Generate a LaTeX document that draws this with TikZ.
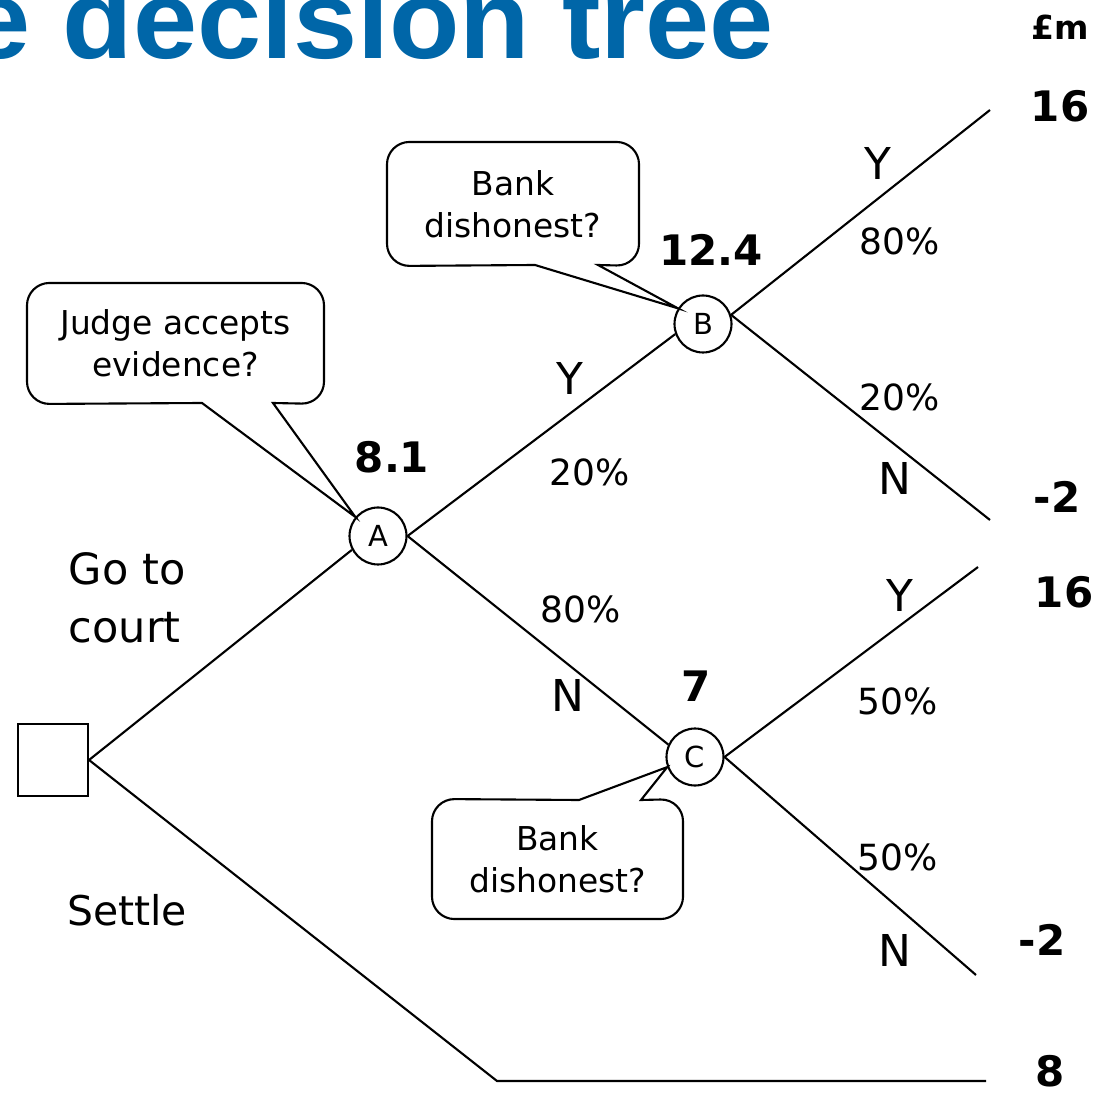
\documentclass[tikz,border=0pt]{standalone}
\usepackage{fontspec}
\setmainfont{DejaVu Sans}
\newfontfamily\headfont{Liberation Sans}
\usetikzlibrary{positioning, calc}
\definecolor{titleblue}{RGB}{0,102,168}

\begin{document}
\begin{tikzpicture}
    [x=0.02cm, y=-0.02cm, line width=1.2pt,
     chance/.style={circle, draw, minimum size=1.14cm, inner sep=0pt, font=\fontsize{16.5}{18}\selectfont},
     decision/.style={rectangle, draw, minimum width=1.4cm, minimum height=1.44cm},
     bubble/.style={inner sep=0pt, align=center, font=\fontsize{18.7}{23.9}\selectfont},
     branch/.style={font=\fontsize{25}{30}\selectfont},
     prob/.style={font=\fontsize{20.5}{24}\selectfont},
     payoff/.style={font=\bfseries\fontsize{23.9}{28}\selectfont}]
    \useasboundingbox (0,0) rectangle (1099,1094);
    \clip (0,0) rectangle (1099,1094);

    % heading, cut by the page edge
    \node[anchor=base east, inner sep=0pt, text=titleblue,
          font=\headfont\bfseries\fontsize{63.7}{64}\selectfont] (title) at (775,59)
          {\scalebox{1.03}[1]{e decision tree}};
    \node[font=\bfseries\fontsize{18.8}{20}\selectfont] (unit) at (1060,27) {£m};

    % nodes of the tree
    \node[decision] (sq) at (53,760) {};
    \node[chance] (nA) at (378,536) {A};
    \node[chance] (nB) at (703,324) {B};
    \node[chance] (nC) at (695,757) {C};

    \coordinate (bY) at (990,110);
    \coordinate (bN) at (990,520);
    \coordinate (cY) at (978,567);
    \coordinate (cN) at (976,975);
    \coordinate (sk) at (497,1081);
    \coordinate (sEnd) at (986,1081);

    \draw (sq.east) -- (nA.208);
    \draw (sq.east) -- (sk) -- (sEnd);
    \draw (nA.east) -- (nB.200);
    \draw (nA.east) -- (nC.155);
    \draw (nB.18) -- (bY);
    \draw (nB.18) -- (bN);
    \draw (nC.east) -- (cY);
    \draw (nC.east) -- (cN);

    % question bubbles
    \node[bubble, minimum width=5.9cm, minimum height=2.38cm] (qA) at (175.5,343.5) {Judge accepts\\evidence?};
    \node[bubble, minimum width=5cm, minimum height=2.44cm] (qB) at (513,204) {Bank\\dishonest?};
    \node[bubble, minimum width=4.98cm, minimum height=2.36cm] (qC) at (557.5,859) {Bank\\dishonest?};

    \draw (nA.140) -- (202,403) [rounded corners=0.45cm] -- (qA.south west) -- (qA.north west)
        -- (qA.north east) -- (qA.south east) [sharp corners] -- (273,403) -- cycle;
    \draw (nB.148) -- (535,265) [rounded corners=0.45cm] -- (qB.south west) -- (qB.north west)
        -- (qB.north east) -- (qB.south east) [sharp corners] -- (598,265) -- cycle;
    \draw (nC.200) -- (641,800) [rounded corners=0.45cm] -- (qC.north east) -- (qC.south east)
        -- (qC.south west) -- (qC.north west) [sharp corners] -- (579,800) -- cycle;

    % branch labels
    \node[align=left, anchor=west, font=\fontsize{24.5}{33}\selectfont] (court) at (62,598) {Go to\\court};
    \node[font=\fontsize{23.3}{28}\selectfont] (settle) at (127,910) {Settle};

    \node[branch] (yA) at (570,378) {Y};
    \node[prob] (pAy) at (590,472) {20\%};
    \node[prob] (pAn) at (581,609) {80\%};
    \node[branch] (nAn) at (568,695) {N};

    \node[branch] (yB) at (878,163) {Y};
    \node[prob] (pBy) at (900,241) {80\%};
    \node[prob] (pBn) at (900,397) {20\%};
    \node[branch] (nBn) at (895,478) {N};

    \node[branch] (yC) at (900,595) {Y};
    \node[prob] (pCy) at (898,701) {50\%};
    \node[prob] (pCn) at (898,857) {50\%};
    \node[branch] (nCn) at (895,950) {N};

    % values
    \node[payoff] (vA) at (392,457) {8.1};
    \node[payoff] (vB) at (711,250) {12.4};
    \node[payoff] (vC) at (696,686) {7};
    \node[payoff] (v1) at (1060,106) {16};
    \node[payoff] (v2) at (1057,497) {-2};
    \node[payoff] (v3) at (1064,592) {16};
    \node[payoff] (v4) at (1042,940) {-2};
    \node[payoff] (v5) at (1050,1071) {8};
\end{tikzpicture}
\end{document}
